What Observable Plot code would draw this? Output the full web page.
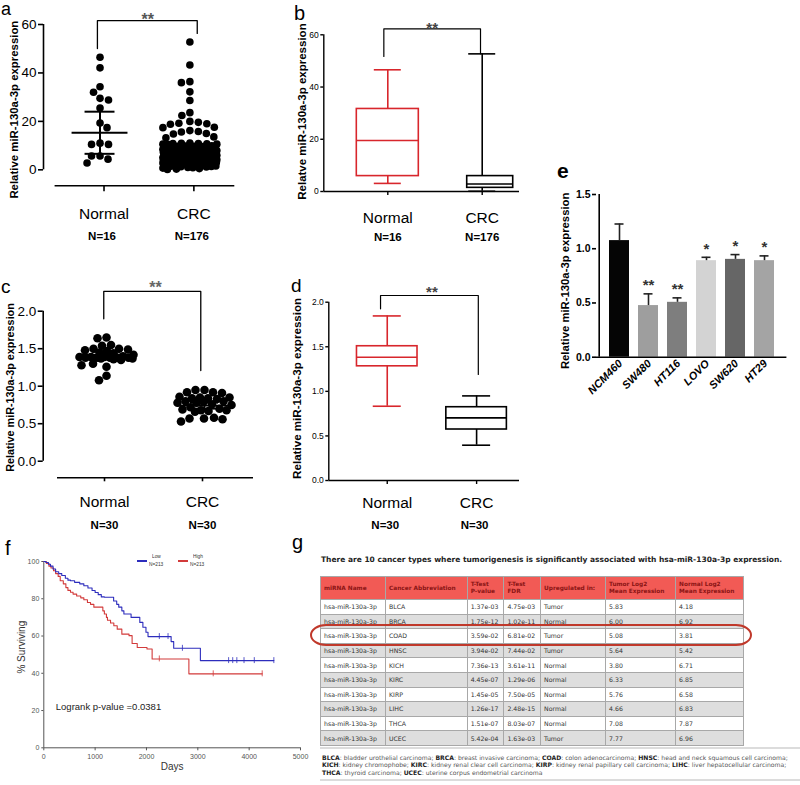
<!DOCTYPE html>
<html><head><meta charset="utf-8">
<script src="https://cdn.jsdelivr.net/npm/d3@7"></script>
<script src="https://cdn.jsdelivr.net/npm/@observablehq/plot@0.6"></script>
<style>
body{margin:0;background:#fff;}
#fig{position:relative;width:800px;height:785px;overflow:hidden;background:#fff;font-family:"Liberation Sans",Arial,sans-serif;color:#000;}
.panel{position:absolute;}
.letter{position:absolute;line-height:1;font-family:"Liberation Sans",Arial,sans-serif;}
#gtitle{position:absolute;left:321px;top:555px;font:bold 7.5px "DejaVu Sans",Verdana,sans-serif;color:#222;white-space:nowrap;}
#tbl{position:absolute;left:320px;top:576px;border-collapse:collapse;table-layout:fixed;font-family:"DejaVu Sans",Verdana,sans-serif;font-size:6.2px;color:#333;}
#tbl td,#tbl th{border:1px solid #a8a8a8;padding:0 0 0 3px;white-space:nowrap;overflow:hidden;text-align:left;}
#tbl th{background:#f25a55;color:#8a1414;font-weight:bold;font-size:5.8px;line-height:1.2;}
#tbl tr.h{height:23px;}
#tbl tr.r{height:14.6px;}
#tbl tr.alt td{background:#dedede;}
#oval{position:absolute;left:310px;top:624px;width:442px;height:22px;border:2px solid #c0392b;border-radius:16px / 11px;box-sizing:border-box;}
#foot{position:absolute;left:320px;top:747px;width:478px;border-top:2px solid #dcdcdc;border-bottom:2px solid #dcdcdc;font:6.1px "DejaVu Sans",Verdana,sans-serif;line-height:7.3px;padding:5px 0 3px 2px;color:#555;white-space:nowrap;}
#foot b{color:#222;}
.leg{position:absolute;font:6px "Liberation Sans",Arial,sans-serif;color:#333;transform-origin:0 0;transform:scale(0.8);line-height:1;}
.sw{position:absolute;height:2px;}
</style></head>
<body><div id="fig"></div>
<script>
// ---------------- DATA ----------------
const groups = ["Normal", "CRC"];

// panel a: scatter (relative expression)
const aNormal = [46.5, 42.1, 34.3, 32.0, 29.5, 28.8, 25.5, 19.3, 17.4, 11.0, 10.5, 10.5, 5.7, 5.7, 4.4, 2.8];
const aCRC = [
 52.8, 43.3, 36.4, 36.0, 32.2, 28.6, 23.6, 22.4,
 20.0, 19.6, 19.2, 19.0, 18.8, 17.6,
 17.4, 16.2, 15.8, 15.6, 15.0, 14.8,
 13.6, 13.2,
 11.0, 10.9, 10.8, 10.8, 10.7, 10.6, 10.6, 10.5,
 9.9, 9.8, 9.7, 9.7, 9.6, 9.5, 9.5, 9.4, 9.3, 9.3, 9.2, 9.1, 9.0, 9.0,
 8.9, 8.9, 8.8, 8.7, 8.7, 8.6, 8.5, 8.5, 8.4, 8.3, 8.3, 8.2, 8.1, 8.1, 8.0, 8.0,
 7.9, 7.9, 7.8, 7.8, 7.7, 7.6, 7.6, 7.5, 7.4, 7.4, 7.3, 7.2, 7.2, 7.1, 7.1, 7.0, 7.0,
 6.9, 6.9, 6.8, 6.8, 6.7, 6.6, 6.6, 6.5, 6.5, 6.4, 6.3, 6.3, 6.2, 6.2, 6.1, 6.1, 6.0, 6.0,
 5.9, 5.9, 5.8, 5.8, 5.7, 5.7, 5.6, 5.5, 5.5, 5.4, 5.4, 5.3, 5.3, 5.2, 5.2, 5.1, 5.1, 5.0, 5.0,
 4.9, 4.9, 4.8, 4.8, 4.7, 4.7, 4.6, 4.5, 4.5, 4.4, 4.4, 4.3, 4.3, 4.2, 4.2, 4.1, 4.1, 4.0, 4.0,
 3.9, 3.9, 3.8, 3.7, 3.7, 3.6, 3.5, 3.5, 3.4, 3.3, 3.3, 3.2, 3.1, 3.1, 3.0, 3.0, 3.0,
 2.9, 2.8, 2.7, 2.6, 2.6, 2.5, 2.4, 2.3, 2.2, 2.2, 2.1, 2.0, 2.0,
 1.9, 1.8, 1.6, 1.5, 1.4, 1.3, 1.2, 1.0,
 0.9, 0.7, 0.5, 0.3, 0.1
];
const aCount = [16, 176];
const aMean = [15.3, 9.0];
const aErr = [8.7, 0.8];

// panel b: box plot (same cohort)
const bLow = [3.1, 0.1], bQ1 = [5.9, 1.4], bMed = [19.5, 2.9], bQ3 = [31.6, 5.9], bHigh = [46.6, 52.7];
const bCount = [16, 176];

// panel c: scatter (paired cohort)
const cNormal = [1.65, 1.64, 1.55, 1.54, 1.50, 1.50, 1.49, 1.48, 1.47, 1.45, 1.44, 1.42, 1.40, 1.39, 1.39,
  1.39, 1.38, 1.38, 1.38, 1.38, 1.38, 1.37, 1.37, 1.36, 1.35, 1.30, 1.28, 1.26, 1.14, 1.08];
const cCRC = [0.95, 0.95, 0.92, 0.92, 0.91, 0.86, 0.85, 0.85, 0.84, 0.84, 0.83, 0.80, 0.80, 0.79, 0.78,
  0.78, 0.76, 0.75, 0.72, 0.70, 0.69, 0.68, 0.68, 0.67, 0.66, 0.58, 0.57, 0.57, 0.56, 0.53];
const cCount = [30, 30];
const cMean = [1.42, 0.74];
const cErr = [0.04, 0.04];

// panel d: box plot
const dLow = [0.833, 0.396], dQ1 = [1.281, 0.572], dMed = [1.383, 0.703], dQ3 = [1.506, 0.822], dHigh = [1.846, 0.949];
const dCount = [30, 30];

// panel e: cell lines
const eCells = ["NCM460", "SW480", "HT116", "LOVO", "SW620", "HT29"];
const eMean = [1.075, 0.476, 0.506, 0.890, 0.902, 0.890];
const eSD = [0.153, 0.108, 0.041, 0.031, 0.044, 0.044];
const eSig = ["", "**", "**", "*", "*", "*"];

// panel f: Kaplan-Meier
const fLowDays = [0, 40, 90, 130, 180, 230, 290, 350, 420, 470, 520, 600, 700, 780, 860, 940, 1000, 1060, 1120, 1180, 1360, 1420, 1460, 1520, 1560, 1700, 1870, 1930, 1990, 2030, 2480, 2530, 3050, 4481];
const fLowSurv = [100, 99.5, 98.5, 97.5, 96, 94.5, 93.5, 92.5, 91, 90, 89.7, 88.8, 88, 87, 85.8, 84.4, 83.4, 82.2, 81, 80.8, 78.8, 77, 75.5, 73.5, 71.8, 70, 67.3, 64.7, 62, 59.7, 57, 53.4, 46.8, 46.8];
const fHighDays = [0, 50, 100, 140, 190, 230, 280, 320, 380, 430, 470, 520, 570, 640, 720, 780, 850, 910, 975, 1150, 1180, 1220, 1240, 1300, 1364, 1430, 1520, 1660, 1720, 1820, 2010, 2110, 2826, 4254];
const fHighSurv = [100, 99, 97.5, 96.5, 95, 93.5, 92, 89.7, 88, 86, 84.5, 83.5, 82.5, 81.5, 80.5, 79.5, 78, 77, 75.5, 73.5, 71.8, 70, 68.5, 67, 65.5, 63.7, 61, 60.2, 56, 53.8, 53, 47.7, 39.7, 39.7];
const fLowCensor = [2250, 2420, 2700, 3600, 3680, 3760, 3900, 4100, 4481];
const fHighCensor = [2250, 3300, 4254];
const fGroups = ["Low", "High"];
const fN = [213, 213];
const fPValue = "0.0381";

// panel g: table
const gTitle = "There are 10 cancer types where tumorigenesis is significantly associated with hsa-miR-130a-3p expression.";
const gHeaders = ["miRNA Name", "Cancer Abbreviation", "T-Test<br>P-value", "T-Test<br>FDR", "Upregulated in:", "Tumor Log2<br>Mean Expression", "Normal Log2<br>Mean Expression"];
const gMirna = "hsa-miR-130a-3p";
const gCancer = ["BLCA", "BRCA", "COAD", "HNSC", "KICH", "KIRC", "KIRP", "LIHC", "THCA", "UCEC"];
const gPValue = ["1.37e-03", "1.75e-12", "3.59e-02", "3.94e-02", "7.36e-13", "4.45e-07", "1.45e-05", "1.26e-17", "1.51e-07", "5.42e-04"];
const gFDR = ["4.75e-03", "1.02e-11", "6.81e-02", "7.44e-02", "3.61e-11", "1.29e-06", "7.50e-05", "2.48e-15", "8.03e-07", "1.63e-03"];
const gUp = ["Tumor", "Normal", "Tumor", "Tumor", "Normal", "Normal", "Normal", "Normal", "Normal", "Tumor"];
const gTumor = ["5.83", "6.00", "5.08", "5.64", "3.80", "6.33", "5.76", "4.66", "7.08", "7.77"];
const gNormalExp = ["4.18", "6.92", "3.81", "5.42", "6.71", "6.85", "6.58", "6.83", "7.87", "6.96"];
const gFullNames = ["bladder urothelial carcinoma", "breast invasive carcinoma", "colon adenocarcinoma", "head and neck squamous cell carcinoma",
  "kidney chromophobe", "kidney renal clear cell carcinoma", "kidney renal papillary cell carcinoma", "liver hepatocellular carcinoma",
  "thyroid carcinoma", "uterine corpus endometrial carcinoma"];

// ---------------- HELPERS ----------------
const fig = document.getElementById("fig");
const FONT = '"Liberation Sans", Arial, sans-serif';
function place(node, left, top, w) {
  const d = document.createElement("div");
  d.className = "panel"; d.style.left = left + "px"; d.style.top = top + "px"; d.style.width = w + "px";
  d.appendChild(node); fig.appendChild(d);
}
function letter(t, left, top, size, bold) {
  const s = document.createElement("div");
  s.className = "letter"; s.textContent = t;
  s.style.left = left + "px"; s.style.top = top + "px"; s.style.fontSize = size + "px";
  if (bold) s.style.fontWeight = "bold";
  fig.appendChild(s);
}
// beeswarm offsets (pixels) for one group
function swarm(values, pxPerY, d, maxHalf) {
  const order = values.map((v, i) => i).sort((a, b) => values[b] - values[a]);
  const placed = [], off = new Array(values.length).fill(0), step = 0.5;
  order.forEach((i, n) => {
    const y = values[i] * pxPerY, sgn = n % 2 ? -1 : 1;
    let best = 0, bestScore = -1, found = false;
    for (let k = 0; k * step <= maxHalf && !found; k++) {
      const cands = k === 0 ? [0] : [sgn * k * step, -sgn * k * step];
      for (const c of cands) {
        let m = Infinity;
        for (const p of placed) {
          const dy = p.y - y;
          if (dy >= d || dy <= -d) continue;
          const dist = Math.hypot(p.x - c, dy);
          if (dist < m) m = dist;
        }
        if (m >= d) { best = c; found = true; break; }
        if (m > bestScore + 1e-9) { bestScore = m; best = c; }
      }
    }
    placed.push({x: best, y}); off[i] = best;
  });
  return off;
}
function swarmData(series, pxPerX, pxPerY, d, maxHalf) {
  return series.flatMap((vals, gi) => {
    const off = swarm(vals, pxPerY, d, maxHalf);
    return vals.map((v, j) => ({group: groups[gi], value: v, x: gi + 1 + off[j] / pxPerX}));
  });
}
const catFmt = (t) => groups[t - 1];
const baseStyle = {fontFamily: FONT, fontSize: "10px", overflow: "visible", background: "transparent", color: "#000"};
const yTitle = (t, dx, dy, size, extra = {}) =>
  Plot.text([t], {frameAnchor: "left", rotate: -90, textAnchor: "middle", dx, dy, fontSize: size, fontWeight: "bold", ...extra});

// ---------------- PANEL a ----------------
{
  const pxX = 90, pxY = 161 / 66.6;
  const dots = swarmData([aNormal, aCRC], pxX, pxY, 8.2, 27);
  const stats = groups.map((g, i) => ({i: i + 1, m: aMean[i], lo: aMean[i] - aErr[i], hi: aMean[i] + aErr[i]}));
  const hw = 28 / pxX, cw = 15 / pxX;
  const bracket = [{x: 0.971, y: 50.1}, {x: 0.971, y: 61.6}, {x: 2.082, y: 61.6}, {x: 2.082, y: 56.3}];
  const svg = Plot.plot({
    width: 260, height: 250, marginLeft: 43, marginRight: 25.7, marginTop: 24, marginBottom: 64.7,
    x: {domain: [0.371, 2.5]}, y: {domain: [-6.6, 60]}, style: baseStyle,
    marks: [
      Plot.axisY({ticks: [0, 20, 40, 60], tickSize: 5, tickPadding: 2, fontSize: 13.5, strokeWidth: 1.6, label: null}),
      Plot.ruleX([0.371], {y1: 0, y2: 60, strokeWidth: 1.6}),
      Plot.ruleY([-6.6], {x1: 0.5, x2: 2.5, strokeWidth: 1.6}),
      Plot.axisX({ticks: [1, 2], tickFormat: catFmt, tickSize: 6, tickPadding: 16.5, fontSize: 15.5, dx: 4, strokeWidth: 1.6, label: null}),
      Plot.text(groups, {x: (d, i) => i + 1, text: (d, i) => "N=" + aCount[i], frameAnchor: "bottom", dy: 53.7, dx: 2, fontWeight: "bold", fontSize: 11.5}),
      Plot.dot(dots, {x: "x", y: "value", r: 3.8, fill: "#000", stroke: null}),
      Plot.ruleY(stats, {y: "m", x1: d => d.i - hw, x2: d => d.i + hw, strokeWidth: 2}),
      Plot.ruleX(stats, {x: "i", y1: "lo", y2: "hi", strokeWidth: 2}),
      Plot.ruleY(stats, {y: "hi", x1: d => d.i - cw, x2: d => d.i + cw, strokeWidth: 2}),
      Plot.ruleY(stats, {y: "lo", x1: d => d.i - cw, x2: d => d.i + cw, strokeWidth: 2}),
      Plot.line(bracket, {x: "x", y: "y", strokeWidth: 1.3}),
      Plot.text(["**"], {x: 1.53, y: 61.6, dy: -1, fontSize: 16, fontWeight: "bold", fill: "#555"}),
      yTitle("Relative miR-130a-3p expression", -29, 4.5, 11.4)
    ]
  });
  place(svg, 0, 0, 260);
  letter("a", 1, 0, 18);
}

// ---------------- PANEL b ----------------
{
  const pxX = 94.4;
  const box = groups.map((g, i) => ({i: i + 1, lo: bLow[i], q1: bQ1[i], med: bMed[i], q3: bQ3[i], hi: bHigh[i]}));
  const colors = ["#d8262c", "#000"];
  const bw = [62 / pxX / 2, 46 / pxX / 2], cap = 13.5 / pxX;
  const shift = [0, 8 / pxX];
  const bracket = [{x: 0.958, y: 51.7}, {x: 0.958, y: 62.3}, {x: 1.982, y: 62.3}, {x: 1.982, y: 52.7}];
  const svg = Plot.plot({
    width: 260, height: 250, marginLeft: 63.3, marginRight: 1, marginTop: 34.3, marginBottom: 59,
    x: {domain: [0.322, 2.395]}, y: {domain: [0, 60]}, style: baseStyle,
    marks: [
      Plot.axisY({ticks: [0, 20, 40, 60], tickSize: 3, tickPadding: 2, fontSize: 8.5, strokeWidth: 1.4, label: null}),
      Plot.ruleX([0.322], {y1: 0, y2: 60, strokeWidth: 1.4}),
      Plot.ruleY([0], {strokeWidth: 1.4}),
      Plot.axisX({ticks: [1, 2], tickFormat: catFmt, tickSize: 4, tickPadding: 16.4, fontSize: 15.5, strokeWidth: 1.4, label: null}),
      Plot.text(groups, {x: (d, i) => i + 1, text: (d, i) => "N=" + bCount[i], frameAnchor: "bottom", dy: 49, fontWeight: "bold", fontSize: 11.5}),
      Plot.ruleX(box, {x: "i", y1: "lo", y2: "q1", stroke: (d, i) => colors[i], strokeWidth: 1.6}),
      Plot.ruleX(box, {x: "i", y1: "q3", y2: "hi", stroke: (d, i) => colors[i], strokeWidth: 1.6}),
      Plot.ruleY(box, {y: "lo", x1: d => d.i - cap, x2: d => d.i + cap, stroke: (d, i) => colors[i], strokeWidth: 1.6}),
      Plot.ruleY(box, {y: "hi", x1: d => d.i - cap, x2: d => d.i + cap, stroke: (d, i) => colors[i], strokeWidth: 1.6}),
      Plot.rect(box, {x1: (d, i) => d.i - bw[i] + shift[i], x2: (d, i) => d.i + bw[i] + shift[i], y1: "q1", y2: "q3", fill: "#fff", stroke: (d, i) => colors[i], strokeWidth: 1.6}),
      Plot.ruleY(box, {y: "med", x1: (d, i) => d.i - bw[i] + shift[i], x2: (d, i) => d.i + bw[i] + shift[i], stroke: (d, i) => colors[i], strokeWidth: 1.6}),
      Plot.line(bracket, {x: "x", y: "y", strokeWidth: 1.2}),
      Plot.text(["**"], {x: 1.47, y: 62.3, dy: -1, fontSize: 15, fontWeight: "bold", fill: "#444"}),
      yTitle("Relatve miR-130a-3p expression", -21.6, -1.6, 11.5)
    ]
  });
  place(svg, 260, 0, 260);
  letter("b", 294, 3, 20);
}

// ---------------- PANEL c ----------------
{
  const pxX = 98, pxY = 75;
  const dots = swarmData([cNormal, cCRC], pxX, pxY, 8.6, 27);
  const stats = groups.map((g, i) => ({i: i + 1, m: cMean[i], lo: cMean[i] - cErr[i], hi: cMean[i] + cErr[i]}));
  const hw = 27 / pxX, cw = 14 / pxX;
  const bracket = [{x: 0.972, y: 1.899}, {x: 0.972, y: 2.263}, {x: 1.962, y: 2.263}, {x: 1.962, y: 1.209}];
  const svg = Plot.plot({
    width: 260, height: 275, marginLeft: 42.7, marginRight: 7, marginTop: 40.7, marginBottom: 67.7,
    x: {domain: [0.354, 2.5]}, y: {domain: [-0.221, 2.0]}, style: baseStyle,
    marks: [
      Plot.axisY({ticks: [0, 0.5, 1, 1.5, 2], tickFormat: ".1f", tickSize: 5, tickPadding: 2, fontSize: 13.5, strokeWidth: 1.6, label: null}),
      Plot.ruleX([0.354], {y1: 0, y2: 2, strokeWidth: 1.6}),
      Plot.ruleY([-0.221], {x1: 0.5, x2: 2.5, strokeWidth: 1.6}),
      Plot.axisX({ticks: [1, 2], tickFormat: catFmt, tickSize: 4, tickPadding: 14.4, fontSize: 15.5, dx: -2, strokeWidth: 1.6, label: null}),
      Plot.text(groups, {x: (d, i) => i + 1, text: (d, i) => "N=" + cCount[i], frameAnchor: "bottom", dy: 50.7, dx: -2, fontWeight: "bold", fontSize: 11.5}),
      Plot.dot(dots, {x: "x", y: "value", r: 4.3, fill: "#000", stroke: null}),
      Plot.ruleY(stats, {y: "m", x1: d => d.i - hw, x2: d => d.i + hw, strokeWidth: 1.8}),
      Plot.ruleX(stats, {x: "i", y1: "lo", y2: "hi", strokeWidth: 1.8}),
      Plot.ruleY(stats, {y: "hi", x1: d => d.i - cw, x2: d => d.i + cw, strokeWidth: 1.8}),
      Plot.ruleY(stats, {y: "lo", x1: d => d.i - cw, x2: d => d.i + cw, strokeWidth: 1.8}),
      Plot.line(bracket, {x: "x", y: "y", strokeWidth: 1.3}),
      Plot.text(["**"], {x: 1.5, y: 2.263, dy: -4, fontSize: 16, fontWeight: "bold", fill: "#666"}),
      yTitle("Relative miR-130a-3p expression", -32.7, -7, 10.8)
    ]
  });
  place(svg, 0, 270, 260);
  letter("c", 1, 277, 19);
}

// ---------------- PANEL d ----------------
{
  const pxX = 89.3;
  const box = groups.map((g, i) => ({i: i + 1, lo: dLow[i], q1: dQ1[i], med: dMed[i], q3: dQ3[i], hi: dHigh[i]}));
  const colors = ["#d8262c", "#000"];
  const bw = 60.5 / pxX / 2, cap = 14 / pxX;
  const bracket = [{x: 0.925, y: 1.926}, {x: 0.925, y: 2.075}, {x: 2.019, y: 2.075}, {x: 2.019, y: 1.189}];
  const svg = Plot.plot({
    width: 260, height: 275, marginLeft: 68.3, marginRight: 1, marginTop: 31.7, marginBottom: 65,
    x: {domain: [0.346, 2.48]}, y: {domain: [0, 2.0]}, style: baseStyle,
    marks: [
      Plot.axisY({ticks: [0, 0.5, 1, 1.5, 2], tickFormat: ".1f", tickSize: 3, tickPadding: 2, fontSize: 8.5, strokeWidth: 1.4, label: null}),
      Plot.ruleX([0.346], {y1: 0, y2: 2, strokeWidth: 1.4}),
      Plot.ruleY([0], {strokeWidth: 1.4}),
      Plot.axisX({ticks: [1, 2], tickFormat: catFmt, tickSize: 4, tickPadding: 12.4, fontSize: 15.5, strokeWidth: 1.4, label: null}),
      Plot.text(groups, {x: (d, i) => i + 1, text: (d, i) => "N=" + dCount[i], frameAnchor: "bottom", dy: 48, dx: -2, fontWeight: "bold", fontSize: 11.5}),
      Plot.ruleX(box, {x: "i", y1: "lo", y2: "q1", stroke: (d, i) => colors[i], strokeWidth: 1.6}),
      Plot.ruleX(box, {x: "i", y1: "q3", y2: "hi", stroke: (d, i) => colors[i], strokeWidth: 1.6}),
      Plot.ruleY(box, {y: "lo", x1: d => d.i - cap, x2: d => d.i + cap, stroke: (d, i) => colors[i], strokeWidth: 1.6}),
      Plot.ruleY(box, {y: "hi", x1: d => d.i - cap, x2: d => d.i + cap, stroke: (d, i) => colors[i], strokeWidth: 1.6}),
      Plot.rect(box, {x1: d => d.i - bw, x2: d => d.i + bw, y1: "q1", y2: "q3", fill: "#fff", stroke: (d, i) => colors[i], strokeWidth: 1.6}),
      Plot.ruleY(box, {y: "med", x1: d => d.i - bw, x2: d => d.i + bw, stroke: (d, i) => colors[i], strokeWidth: 1.6}),
      Plot.line(bracket, {x: "x", y: "y", strokeWidth: 1.2}),
      Plot.text(["**"], {x: 1.5, y: 2.075, dy: -3.7, fontSize: 15, fontWeight: "bold", fill: "#444"}),
      yTitle("Relative miR-130a-3p expression", -31.6, -3, 11.6)
    ]
  });
  place(svg, 260, 270, 260);
  letter("d", 291, 276, 19);
}

// ---------------- PANEL e ----------------
{
  const data = eCells.map((c, i) => ({cell: c, mean: eMean[i], top: eMean[i] + eSD[i], sig: eSig[i]}));
  const svg = Plot.plot({
    width: 280, height: 270, marginLeft: 76, marginRight: 13.6, marginTop: 44, marginBottom: 63.3,
    x: {domain: eCells, paddingInner: 0.3, paddingOuter: 0.33, axis: null},
    y: {domain: [0, 1.5]},
    color: {domain: eCells, range: ["#050505", "#9e9e9e", "#7e7e7e", "#d3d3d3", "#666666", "#a4a4a4"]},
    style: {...baseStyle, fontWeight: "bold"},
    marks: [
      Plot.axisY({ticks: [0, 0.5, 1, 1.5], tickFormat: ".1f", tickSize: 4, tickPadding: 2, fontSize: 10.5, strokeWidth: 1.6, label: null}),
      Plot.barY(data, {x: "cell", y: "mean", fill: "cell"}),
      Plot.ruleX(data, {x: "cell", y1: "mean", y2: "top", strokeWidth: 1.6, stroke: "#222"}),
      Plot.tickY(data, {x: "cell", y: "top", insetLeft: 5.5, insetRight: 5.5, strokeWidth: 1.6, stroke: "#222"}),
      Plot.ruleX([eCells[0]], {y1: 0, y2: 1.5, dx: -20.3, strokeWidth: 1.6}),
      Plot.ruleY([0], {strokeWidth: 1.6}),
      Plot.text(data, {x: "cell", y: "top", text: "sig", dy: -8.6, fontSize: 15, fill: "#333"}),
      Plot.text(data, {x: "cell", text: "cell", frameAnchor: "bottom", rotate: -45, textAnchor: "end", dx: 3.5, dy: 7, fontSize: 11, fontStyle: "italic"}),
      yTitle("Relative miR-130a-3p expression", -31, 5, 11.3)
    ]
  });
  place(svg, 520, 150, 280);
  letter("e", 557, 160, 21, true);
}

// ---------------- PANEL f ----------------
{
  const low = fLowDays.map((t, i) => ({t, s: fLowSurv[i]}));
  const high = fHighDays.map((t, i) => ({t, s: fHighSurv[i]}));
  const survAt = (days, surv, t) => { let s = surv[0]; days.forEach((d, i) => { if (d <= t) s = surv[i]; }); return s; };
  const cens = [
    ...fLowCensor.map(t => ({t, s: survAt(fLowDays, fLowSurv, t), g: "Low"})),
    ...fHighCensor.map(t => ({t, s: survAt(fHighDays, fHighSurv, t), g: "High"}))
  ];
  const col = {Low: "#2d2dbd", High: "#d23a3a"};
  const svg = Plot.plot({
    width: 310, height: 240, marginLeft: 43.3, marginRight: 10, marginTop: 16, marginBottom: 37.7,
    x: {domain: [0, 5000]}, y: {domain: [0, 100]}, style: {...baseStyle, color: "#444"},
    marks: [
      Plot.axisY({ticks: [0, 20, 40, 60, 80, 100], tickSize: 2, tickPadding: 2.5, fontSize: 7, color: "#555", label: null}),
      Plot.axisX({ticks: [0, 1000, 2000, 3000, 4000, 5000], tickFormat: "d", tickSize: 3, tickPadding: 3, fontSize: 7, color: "#555", label: null}),
      Plot.ruleX([0], {stroke: "#555"}),
      Plot.ruleY([0], {stroke: "#555"}),
      Plot.line(high, {x: "t", y: "s", curve: "step-after", stroke: col.High, strokeWidth: 1.1}),
      Plot.line(low, {x: "t", y: "s", curve: "step-after", stroke: col.Low, strokeWidth: 1.1}),
      Plot.ruleX(cens, {x: "t", y1: d => d.s - 1.6, y2: d => d.s + 1.6, stroke: d => col[d.g], strokeWidth: 0.8}),
      Plot.text(["Logrank p-value =" + fPValue], {frameAnchor: "bottom-left", dx: 12, dy: -38, textAnchor: "start", fontSize: 9.5, fill: "#222"}),
      Plot.text(["Days"], {frameAnchor: "bottom", dy: 22, fontSize: 10, fill: "#333"}),
      Plot.text(["% Surviving"], {frameAnchor: "left", rotate: -90, textAnchor: "middle", dx: -21.6, dy: -7.5, fontSize: 10, fill: "#333"})
    ]
  });
  place(svg, 0, 545, 310);
  letter("f", 5, 538, 20);
  // legend
  const legs = [{x: 137, c: col.Low, g: fGroups[0], n: fN[0]}, {x: 178, c: col.High, g: fGroups[1], n: fN[1]}];
  legs.forEach(l => {
    const sw = document.createElement("div"); sw.className = "sw";
    sw.style.left = l.x + "px"; sw.style.top = "560px"; sw.style.width = "10px"; sw.style.background = l.c; fig.appendChild(sw);
    const t1 = document.createElement("div"); t1.className = "leg"; t1.textContent = l.g;
    t1.style.left = (l.x + 15) + "px"; t1.style.top = "554px"; fig.appendChild(t1);
    const t2 = document.createElement("div"); t2.className = "leg"; t2.textContent = "N=" + l.n;
    t2.style.left = (l.x + 12) + "px"; t2.style.top = "561.5px"; fig.appendChild(t2);
  });
}

// ---------------- PANEL g ----------------
{
  letter("g", 292, 532, 20);
  const t = document.createElement("div"); t.id = "gtitle"; t.textContent = gTitle; fig.appendChild(t);
  const widths = [65, 81.7, 36.7, 36.7, 65, 70, 68.3];
  let html = "<colgroup>" + widths.map(w => `<col style="width:${w}px">`).join("") + "</colgroup>";
  html += '<tr class="h">' + gHeaders.map(h => `<th>${h}</th>`).join("") + "</tr>";
  gCancer.forEach((c, i) => {
    html += `<tr class="r${i % 2 ? " alt" : ""}"><td>${gMirna}</td><td>${c}</td><td>${gPValue[i]}</td><td>${gFDR[i]}</td><td>${gUp[i]}</td><td>${gTumor[i]}</td><td>${gNormalExp[i]}</td></tr>`;
  });
  const tbl = document.createElement("table"); tbl.id = "tbl"; tbl.innerHTML = html;
  tbl.style.width = widths.reduce((a, b) => a + b, 0) + "px";
  fig.appendChild(tbl);
  const ov = document.createElement("div"); ov.id = "oval"; fig.appendChild(ov);
  const ft = document.createElement("div"); ft.id = "foot";
  const parts = gCancer.map((c, i) => `<b>${c}</b>: ${gFullNames[i]}`);
  ft.innerHTML = parts.slice(0, 4).join("; ") + ";<br>" + parts.slice(4, 8).join("; ") + ";<br>" + parts.slice(8).join("; ");
  fig.appendChild(ft);
}
</script>
</body></html>
